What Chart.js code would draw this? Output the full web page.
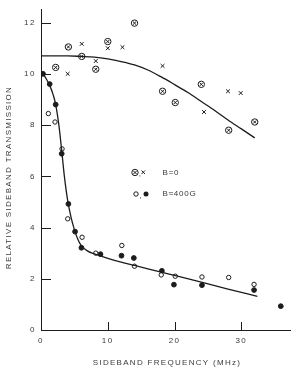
<!DOCTYPE html>
<html>
<head>
<meta charset="utf-8">
<script src="https://cdn.jsdelivr.net/npm/chart.js@4"></script>
<style>
  html, body { margin: 0; padding: 0; background: #fff; }
  #wrap { width: 295px; height: 374px; }
</style>
</head>
<body>
<div id="wrap"><canvas id="chart" width="295" height="374"></canvas></div>
<script>
// B = 0 : circled crosses and plain crosses
const crossCircleX = [2.2, 4.1, 6.1, 8.2, 10.0, 14.0, 18.2, 20.1, 24.0, 28.1, 32.0];
const crossCircleY = [10.25, 11.05, 10.68, 10.18, 11.26, 11.98, 9.32, 8.88, 9.59, 7.8, 8.12];
const crossX = [4.0, 6.1, 8.2, 10.0, 12.2, 18.2, 24.4, 28.0, 29.9];
const crossY = [10.0, 11.17, 10.5, 11.0, 11.04, 10.31, 8.51, 9.32, 9.25];

// B ~ 400 G : open and filled circles
const openX = [1.1, 2.1, 3.15, 4.0, 6.15, 8.2, 12.1, 14.0, 18.0, 20.1, 24.1, 28.1, 31.9];
const openY = [8.45, 8.12, 7.07, 4.34, 3.62, 3.0, 3.3, 2.49, 2.15, 2.1, 2.07, 2.05, 1.78];
const filledX = [0.3, 1.3, 2.2, 3.1, 4.1, 5.1, 6.05, 8.9, 12.05, 13.9, 18.1, 19.9, 24.1, 31.9, 35.9];
const filledY = [10.0, 9.6, 8.8, 6.88, 4.92, 3.84, 3.21, 2.96, 2.9, 2.81, 2.31, 1.77, 1.75, 1.56, 0.93];

// fitted curves
const curveZeroX = [0, 4, 6, 8, 10, 12, 14, 16, 18, 20, 22, 24, 26, 28, 30, 32];
const curveZeroY = [10.7, 10.7, 10.68, 10.65, 10.58, 10.48, 10.35, 10.15, 9.88, 9.58, 9.27, 8.92, 8.57, 8.2, 7.85, 7.5];
const curveFieldX = [0.2, 0.8, 1.3, 1.8, 2.2, 2.7, 3.1, 3.5, 4.0, 4.5, 5.0, 5.5, 6.0, 7.0, 8.0, 10, 12, 14, 16, 18, 20, 24, 28, 32.4];
const curveFieldY = [10.03, 9.8, 9.55, 9.2, 8.8, 7.95, 7.0, 6.0, 5.05, 4.4, 3.92, 3.55, 3.3, 3.08, 2.97, 2.8, 2.65, 2.52, 2.39, 2.26, 2.13, 1.87, 1.6, 1.31];

const xTicks = [0, 10, 20, 30];
const yTicks = [0, 2, 4, 6, 8, 10, 12];

const xTitle = 'SIDEBAND FREQUENCY (MHz)';
const yTitle = 'RELATIVE SIDEBAND TRANSMISSION';
const legendRows = ['B=0', 'B\u2248400G'];

const ink = '#1c1c1c';
const textInk = '#3a3a3a';
const fontFam = '"Liberation Sans", Arial, sans-serif';

function pts(xs, ys) {
  return xs.map((x, i) => ({ x: x, y: ys[i] }));
}

function marks(label, xs, ys, style, radius, fill) {
  return {
    type: 'scatter',
    label: label,
    data: pts(xs, ys),
    pointStyle: style,
    pointRadius: radius,
    pointHoverRadius: radius,
    pointBorderWidth: 1,
    pointBorderColor: ink,
    pointBackgroundColor: fill,
    showLine: false
  };
}

function curve(label, xs, ys) {
  return {
    type: 'line',
    label: label,
    data: pts(xs, ys),
    borderColor: ink,
    borderWidth: 1.3,
    pointRadius: 0,
    cubicInterpolationMode: 'monotone',
    fill: false
  };
}

/* spaced-out lettering for the tick labels */
const spacing = {
  id: 'spacing',
  beforeDraw(chart) {
    chart.ctx.letterSpacing = '1.5px';
  }
};

/* inward tick marks, axis titles and the in-plot key */
const decorations = {
  id: 'decorations',
  afterDraw(chart) {
    const ctx = chart.ctx;
    const xs = chart.scales.x, ys = chart.scales.y;
    const area = chart.chartArea;
    ctx.save();
    ctx.strokeStyle = ink;
    ctx.lineWidth = 1;
    ctx.beginPath();
    yTicks.forEach(v => {
      if (v === 0) return;
      const py = Math.round(ys.getPixelForValue(v)) + 0.5;
      ctx.moveTo(area.left, py);
      ctx.lineTo(area.left + 10, py);
    });
    xTicks.forEach(v => {
      if (v === 0) return;
      const px = Math.round(xs.getPixelForValue(v)) + 0.5;
      ctx.moveTo(px, area.bottom);
      ctx.lineTo(px, area.bottom - 8);
    });
    ctx.stroke();

    // axis titles
    ctx.fillStyle = textInk;
    ctx.font = '8px ' + fontFam;
    ctx.letterSpacing = '1.3px';
    ctx.textAlign = 'center';
    ctx.textBaseline = 'middle';
    ctx.fillText(xTitle, 167, 363);
    ctx.save();
    ctx.translate(9, 177.5);
    ctx.rotate(-Math.PI / 2);
    ctx.fillText(yTitle, 0, 0);
    ctx.restore();

    // key
    ctx.letterSpacing = '0.8px';
    ctx.textAlign = 'left';
    const r1 = 172.5, r2 = 194;
    ctx.beginPath();
    ctx.arc(135, r1, 3.2, 0, Math.PI * 2);
    ctx.moveTo(133.2, r1 - 1.8); ctx.lineTo(136.8, r1 + 1.8);
    ctx.moveTo(136.8, r1 - 1.8); ctx.lineTo(133.2, r1 + 1.8);
    ctx.moveTo(141.5, r1 - 2); ctx.lineTo(145, r1 + 1.5);
    ctx.moveTo(145, r1 - 2); ctx.lineTo(141.5, r1 + 1.5);
    ctx.stroke();
    ctx.beginPath();
    ctx.arc(136, r2, 2.2, 0, Math.PI * 2);
    ctx.stroke();
    ctx.beginPath();
    ctx.fillStyle = ink;
    ctx.arc(146, r2, 2.5, 0, Math.PI * 2);
    ctx.fill();
    ctx.fillStyle = textInk;
    ctx.fillText(',', 138.8, r1 + 1.5);
    ctx.fillText(',', 139.3, r2 + 1.5);
    ctx.fillText(legendRows[0], 162.5, r1);
    ctx.fillText(legendRows[1], 162.5, r2);
    ctx.restore();
  }
};

new Chart(document.getElementById('chart'), {
  type: 'scatter',
  data: {
    datasets: [
      curve('B=0 fit', curveZeroX, curveZeroY),
      curve('B=400G fit', curveFieldX, curveFieldY),
      marks('B=0 circled', crossCircleX, crossCircleY, 'circle', 3.2, 'rgba(0,0,0,0)'),
      marks('B=0 circled x', crossCircleX, crossCircleY, 'crossRot', 2.2, ink),
      marks('B=0 x', crossX, crossY, 'crossRot', 2.7, ink),
      marks('B=400G open', openX, openY, 'circle', 2.2, '#fff'),
      marks('B=400G filled', filledX, filledY, 'circle', 2.4, ink)
    ]
  },
  options: {
    responsive: false,
    animation: false,
    devicePixelRatio: 1,
    layout: { padding: { top: 1, right: 1, left: 0, bottom: 0 } },
    plugins: { legend: { display: false }, tooltip: { enabled: false } },
    scales: {
      x: {
        type: 'linear',
        min: 0,
        max: 37.4,
        afterBuildTicks: s => { s.ticks = xTicks.map(v => ({ value: v })); },
        afterFit: s => { s.height = 44; },
        grid: { display: false, drawTicks: false },
        border: { display: true, color: ink, width: 1 },
        ticks: {
          padding: 6,
          color: textInk,
          font: { family: fontFam, size: 8 },
          maxRotation: 0
        }
      },
      y: {
        type: 'linear',
        min: 0,
        max: 12.5,
        afterBuildTicks: s => { s.ticks = yTicks.map(v => ({ value: v })); },
        afterFit: s => { s.width = 41; },
        grid: { display: false, drawTicks: false },
        border: { display: true, color: ink, width: 1 },
        ticks: {
          padding: 5,
          color: textInk,
          font: { family: fontFam, size: 8 }
        }
      }
    }
  },
  plugins: [spacing, decorations]
});
</script>
</body>
</html>
